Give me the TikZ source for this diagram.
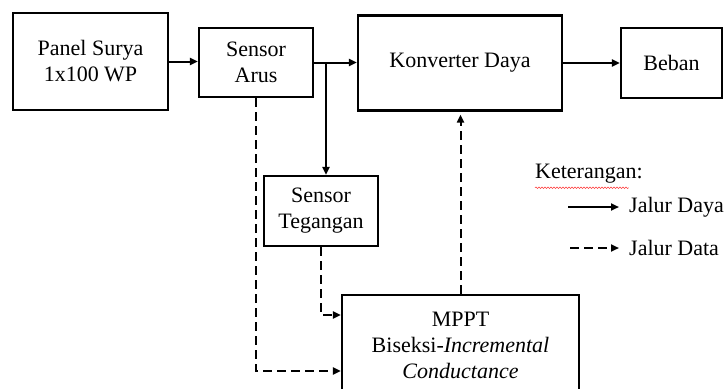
\documentclass[tikz,border=0pt]{standalone}
\usepackage{fontspec}
\setmainfont{Liberation Serif}
\usetikzlibrary{arrows.meta,decorations.pathmorphing}
\begin{document}
\begin{tikzpicture}[x=1pt,y=-1pt,
  blok/.style={draw, line width=2.3pt, align=center, inner sep=2pt,
    font=\fontsize{22}{26}\selectfont},
  daya/.style={line width=2pt, -{Triangle[length=8pt,width=7pt]}},
  data/.style={line width=2pt, dash pattern=on 9pt off 5pt, -{Triangle[length=8pt,width=7pt]}},
  teks/.style={inner sep=0pt, anchor=west, font=\fontsize{22}{26}\selectfont}]
\useasboundingbox (0,0) rectangle (725,388);
\clip (0,0) rectangle (725,388);

\node[blok, minimum width=155pt, minimum height=97pt] (panel) at (90.5,61.5) {Panel Surya\\1x100 WP};
\node[blok, minimum width=114pt, minimum height=69pt] (arus) at (256,62.5) {Sensor\\Arus};
\node[blok, minimum width=204pt, minimum height=95pt] (konv) at (460,63) {Konverter Daya};
\node[blok, minimum width=101pt, minimum height=70pt] (beban) at (671.5,63) {Beban};
\node[blok, minimum width=114pt, minimum height=70pt] (teg) at (321,211) {Sensor\\Tegangan};
\node[blok, minimum width=237pt, minimum height=100pt] (mppt) at (460.5,345) {MPPT\\Biseksi-\textit{Incremental}\\\textit{Conductance}};

\draw[daya] (panel.east) -- (arus.west |- panel.east);
\draw[daya] (arus.east) -- (konv.west |- arus.east);
\coordinate (cab) at (326,62.5);
\draw[daya] (cab) -- (cab |- teg.north);
\draw[daya] (konv.east |- beban.west) -- (beban.west);

\draw[data] (teg.south) |- ([yshift=30pt]mppt.west);
\draw[data] (arus.south) |- ([yshift=-26pt]mppt.west);
\draw[data, shorten >=3pt] (mppt.north) -- (mppt.north |- konv.south);

% legend
\node[teks] (ket) at (535,174) {Keterangan:};
\draw[red!80, line width=0.5pt, decorate, decoration={snake, amplitude=0.8pt, segment length=3pt}]
  ([yshift=-4pt]ket.south west) -- ([xshift=-14pt,yshift=-4pt]ket.south east);
\coordinate (l1a) at (568,207);
\node[teks] (l1) at (629,207) {Jalur Daya};
\draw[daya] (l1a) -- ([xshift=-10pt]l1.west);
\coordinate (l2a) at (570,248);
\node[teks] (l2) at (629,248) {Jalur Data};
\draw[data] (l2a) -- ([xshift=-10pt]l2.west);
\end{tikzpicture}
\end{document}
